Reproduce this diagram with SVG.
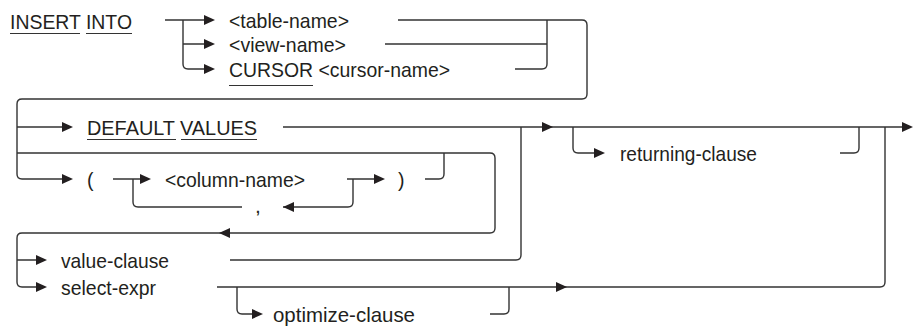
<svg xmlns="http://www.w3.org/2000/svg" xmlns:xlink="http://www.w3.org/1999/xlink" width="913" height="329" viewBox="0 0 913 329">
<style>
  .t { font-family: "Liberation Sans", Arial, sans-serif; font-size: 21px; fill: #231f20; }
  .c { fill: none; stroke: #333; stroke-width: 1.4; }
  .u { stroke: #333; stroke-width: 1.2; }
  .a { fill: #231f20; }
</style>
<defs>
  <path id="ar" class="a" d="M-11,-5 L0,0 L-11,5 Z"/>
  <path id="al" class="a" d="M11,-5 L0,0 L11,5 Z"/>
</defs>
<rect width="913" height="329" fill="#fff"/>
<g id="connectors">
  <path class="c" d="M165,20 H205 M183,20 V64 Q183,69 188,69 H205 M183,44 H205"/>
  <path class="c" d="M398,20 H582 Q587,20 587,25 V94 Q587,99 582,99 H22 Q17,99 17,104 V174 Q17,179 22,179 H63"/>
  <path class="c" d="M385,44 H547 M547,20 V64 Q547,69 542,69 H515"/>
  <path class="c" d="M17,127 H63 M283,127 H903"/>
  <path class="c" d="M17,153 H490 Q495,153 495,158 V228 Q495,233 490,233 H22 Q17,233 17,238 V282 Q17,287 22,287 H37 M17,260 H37"/>
  <path class="c" d="M113,179 H141 M133,179 V202 Q133,207 138,207 H242 M283,207 H348 Q353,207 353,202 V179 M347,179 H375 M425,179 H439 Q444,179 444,174 V153"/>
  <path class="c" d="M521,127 V255 Q521,260 516,260 H230"/>
  <path class="c" d="M217,287 H880 Q885,287 885,282 V127"/>
  <path class="c" d="M237,287 V309 Q237,314 242,314 H253 M490,314 H504 Q509,314 509,309 V287"/>
  <path class="c" d="M573,127 V148 Q573,153 578,153 H595 M840,153 H854 Q859,153 859,148 V127"/>
  <use xlink:href="#ar" x="215" y="20"/>
  <use xlink:href="#ar" x="215" y="44"/>
  <use xlink:href="#ar" x="215" y="69"/>
  <use xlink:href="#ar" x="73" y="127"/>
  <use xlink:href="#ar" x="73" y="179"/>
  <use xlink:href="#ar" x="151" y="179"/>
  <use xlink:href="#ar" x="385" y="179"/>
  <use xlink:href="#al" x="283" y="207"/>
  <use xlink:href="#ar" x="553" y="127"/>
  <use xlink:href="#ar" x="913" y="127"/>
  <use xlink:href="#ar" x="605" y="153"/>
  <use xlink:href="#al" x="219" y="233"/>
  <use xlink:href="#ar" x="47" y="260"/>
  <use xlink:href="#ar" x="47" y="287"/>
  <use xlink:href="#ar" x="567" y="287"/>
  <use xlink:href="#ar" x="263" y="314"/>
</g>
<g id="insert-into">
  <text class="t" x="10" y="28.5" textLength="122" lengthAdjust="spacingAndGlyphs">INSERT INTO</text>
  <line class="u" x1="10" y1="33.5" x2="80" y2="33.5"/>
  <line class="u" x1="86" y1="33.5" x2="132" y2="33.5"/>
</g>
<g id="table-name"><text class="t" x="229" y="27.5" textLength="120" lengthAdjust="spacingAndGlyphs">&lt;table-name&gt;</text></g>
<g id="view-name"><text class="t" x="229" y="51.5" textLength="117" lengthAdjust="spacingAndGlyphs">&lt;view-name&gt;</text></g>
<g id="cursor">
  <text class="t" x="229" y="76.5" textLength="221" lengthAdjust="spacingAndGlyphs">CURSOR &lt;cursor-name&gt;</text>
  <line class="u" x1="229" y1="85.5" x2="313" y2="85.5"/>
</g>
<g id="default-values">
  <text class="t" x="87" y="134.5" textLength="170" lengthAdjust="spacingAndGlyphs">DEFAULT VALUES</text>
  <line class="u" x1="87" y1="139.5" x2="176" y2="139.5"/>
  <line class="u" x1="181" y1="139.5" x2="257" y2="139.5"/>
</g>
<g id="lparen"><text class="t" x="87" y="186.5" textLength="6.5" lengthAdjust="spacingAndGlyphs">(</text></g>
<g id="column-name"><text class="t" x="165" y="186.5" textLength="140" lengthAdjust="spacingAndGlyphs">&lt;column-name&gt;</text></g>
<g id="comma"><text class="t" x="255" y="212.5">,</text></g>
<g id="rparen"><text class="t" x="398" y="186.5" textLength="6.5" lengthAdjust="spacingAndGlyphs">)</text></g>
<g id="returning-clause"><text class="t" x="620" y="160.5" textLength="137" lengthAdjust="spacingAndGlyphs">returning-clause</text></g>
<g id="value-clause"><text class="t" x="61" y="267.5" textLength="108" lengthAdjust="spacingAndGlyphs">value-clause</text></g>
<g id="select-expr"><text class="t" x="61" y="294.5" textLength="95" lengthAdjust="spacingAndGlyphs">select-expr</text></g>
<g id="optimize-clause"><text class="t" x="273" y="321.5" textLength="142" lengthAdjust="spacingAndGlyphs">optimize-clause</text></g>
</svg>
